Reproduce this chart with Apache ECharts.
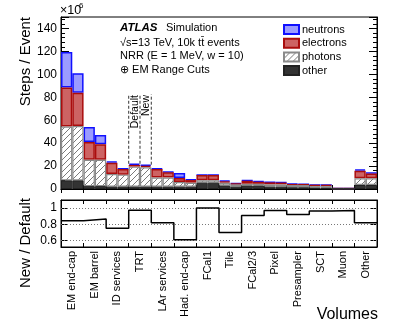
<!DOCTYPE html>
<html>
<head>
<meta charset="utf-8">
<script src="https://cdn.jsdelivr.net/npm/echarts@6/dist/echarts.min.js"></script>
<style>html,body{margin:0;padding:0;background:#fff;}#c{width:399px;height:328px;}</style>
</head>
<body>
<div id="c"></div>
<script>
// ---- data (values in units of 10^6 steps / event) ----
const categories = ['EM end-cap','EM barrel','ID services','TRT','LAr services','Had. end-cap','FCal1','Tile','FCal2/3','Pixel','Presampler','SCT','Muon','Other'];
const variants = ['Default','New'];
// per bin: Default, New interleaved for each category
const other     = [7.5,7.5, 2.5,2.5, 2,2, 2,2, 2,2, 2,2, 5.5,5.5, 3,2, 3,3, 2,2, 1.5,1.5, 1.2,1.2, 0.2,0.2, 3.5,3.5];
const photons   = [47,47.5, 23,23, 11,10.5, 17.5,17, 8,8, 4,3.5, 2.2,2.2, 2.5,2, 1.5,1.5, 2,2, 2,2, 1.3,1.3, 0.2,0.2, 5.8,5.8];
const electrons = [34,29, 15.5,13.5, 10,5, 1.5,1.3, 7.5,4.5, 3.5,2.3, 4.5,4.5, 1,0.6, 2.8,1.8, 1.8,1.6, 0.5,0.4, 1.0,0.9, 0.1,0.1, 6.7,4.3];
const neutrons  = [31,17, 13,8, 1,0.5, 1,0.9, 0.5,0.5, 4.5,0.7, 0.1,0.1, 1,0.6, 0.3,0.6, 0.2,0.2, 0.6,0.35, 0.1,0.08, 0.05,0.03, 1.1,0.5];
const ratio     = [0.845, 0.865, 0.75, 0.975, 0.82, 0.61, 1.0, 0.70, 0.91, 0.97, 0.92, 0.965, 0.97, 0.82];
const ratioTicks = [0.6, 0.8, 1];
const markedCategory = 'TRT';   // Default / New annotation

// ---- derived ----
const binLabels = [];
categories.forEach(c => variants.forEach(v => binLabels.push(c + ' ' + v)));
const totals = other.map((_, i) => other[i] + photons[i] + electrons[i] + neutrons[i]);
const FONT = '"Liberation Sans", Arial, Helvetica, sans-serif';

const hatch = (() => {
  const c = document.createElement('canvas');
  c.width = 6; c.height = 6;
  const g = c.getContext('2d');
  g.fillStyle = '#ffffff'; g.fillRect(0, 0, 6, 6);
  g.strokeStyle = '#7a7a7a'; g.lineWidth = 1;
  g.beginPath();
  g.moveTo(0, 6); g.lineTo(6, 0);
  g.moveTo(-1, 1); g.lineTo(1, -1);
  g.moveTo(5, 7); g.lineTo(7, 5);
  g.stroke();
  return c;
})();

const chart = echarts.init(document.getElementById('c'), null, {renderer: 'canvas'});

const ci = categories.indexOf(markedCategory);
const edges = [2 * ci, 2 * ci + 1, 2 * ci + 2];
const annotTop = 82.6;
const dashSeries = edges.map(e => {
  const left = e - 1 >= 0 ? totals[e - 1] : 0;
  const right = e < totals.length ? totals[e] : 0;
  return {
    type: 'line', xAxisIndex: 1, yAxisIndex: 0, symbol: 'none', silent: true, z: 10,
    lineStyle: {color: '#333', width: 1, type: [3, 2]},
    data: [[e, Math.max(left, right)], [e, annotTop]]
  };
});

const ratioData = ratio.map((r, i) => [i, r]);
ratioData.push([ratio.length, ratio[ratio.length - 1]]);

const barCommon = {type: 'bar', stack: 'steps', xAxisIndex: 0, yAxisIndex: 0, barCategoryGap: '0%'};
const axisBlack = {lineStyle: {color: '#000', width: 1}};

chart.setOption({
  animation: false,
  backgroundColor: '#fff',
  textStyle: {fontFamily: FONT},
  grid: [
    {left: 61, top: 17, width: 316, height: 172, show: true, borderColor: '#000', borderWidth: 1},
    {left: 61, top: 200, width: 316, height: 47, show: true, borderColor: '#000', borderWidth: 1}
  ],
  legend: {
    left: 283, top: 24, orient: 'vertical', itemWidth: 15, itemHeight: 9, itemGap: 2.7, padding: 0,
    icon: 'rect', data: ['neutrons', 'electrons', 'photons', 'other'],
    textStyle: {fontSize: 11, color: '#000', fontFamily: FONT, padding: [0, 0, 0, -2]}
  },
  xAxis: [
    {gridIndex: 0, type: 'category', data: binLabels, position: 'bottom',
     axisLine: axisBlack, axisLabel: {show: false},
     axisTick: {show: true, inside: true, length: 4, interval: (i) => i % 2 === 0, lineStyle: {color: '#000'}}},
    {gridIndex: 0, type: 'value', min: 0, max: 28, interval: 2, position: 'top',
     axisLine: axisBlack, axisLabel: {show: false}, splitLine: {show: false},
     axisTick: {show: true, inside: true, length: 4, lineStyle: {color: '#000'}}},
    {gridIndex: 1, type: 'category', data: categories, position: 'bottom',
     axisLine: axisBlack,
     axisLabel: {rotate: 90, fontSize: 11, color: '#000', margin: 4, interval: 0, fontFamily: FONT},
     axisTick: {show: true, inside: true, length: 4, lineStyle: {color: '#000'}}},
    {gridIndex: 1, type: 'value', min: 0, max: 14, interval: 1, position: 'top',
     axisLine: axisBlack, axisLabel: {show: false}, splitLine: {show: false},
     axisTick: {show: true, inside: true, length: 4, lineStyle: {color: '#000'}}}
  ],
  yAxis: [
    {gridIndex: 0, type: 'value', min: 0, max: 150, interval: 20, position: 'left',
     axisLine: {show: true, lineStyle: {color: '#000'}},
     axisLabel: {fontSize: 12, color: '#000', margin: 4, showMaxLabel: false, fontFamily: FONT},
     axisTick: {show: true, inside: true, length: 8, lineStyle: {color: '#000'}},
     minorTick: {show: true, splitNumber: 5, length: 4, lineStyle: {color: '#000'}},
     splitLine: {show: false}},
    {gridIndex: 0, type: 'value', min: 0, max: 150, interval: 20, position: 'right',
     axisLine: {show: true, lineStyle: {color: '#000'}}, axisLabel: {show: false},
     axisTick: {show: true, inside: true, length: 8, lineStyle: {color: '#000'}},
     minorTick: {show: true, splitNumber: 5, length: 4, lineStyle: {color: '#000'}},
     splitLine: {show: false}},
    {gridIndex: 1, type: 'value', min: 0.52, max: 1.1, position: 'left',
     axisLine: {show: true, lineStyle: {color: '#000'}},
     axisLabel: {fontSize: 12, color: '#000', margin: 4, customValues: ratioTicks, fontFamily: FONT},
     axisTick: {show: true, inside: true, length: 6, customValues: ratioTicks, lineStyle: {color: '#000'}},
     splitLine: {show: false}},
    {gridIndex: 1, type: 'value', min: 0.52, max: 1.1, position: 'right',
     axisLine: {show: true, lineStyle: {color: '#000'}}, axisLabel: {show: false},
     axisTick: {show: true, inside: true, length: 6, customValues: ratioTicks, lineStyle: {color: '#000'}},
     splitLine: {show: false}}
  ],
  series: [
    Object.assign({}, barCommon, {name: 'other', data: other, z: 5,
      itemStyle: {color: '#333333', borderColor: '#222222', borderWidth: 1}}),
    Object.assign({}, barCommon, {name: 'photons', data: photons, z: 4,
      itemStyle: {color: {image: hatch, repeat: 'repeat'}, borderColor: '#8a8a8a', borderWidth: 1.2}}),
    Object.assign({}, barCommon, {name: 'electrons', data: electrons, z: 3,
      itemStyle: {color: '#cd6363', borderColor: '#aa0d0d', borderWidth: 1.5}}),
    Object.assign({}, barCommon, {name: 'neutrons', data: neutrons, z: 2,
      itemStyle: {color: '#9b9bff', borderColor: '#1010ff', borderWidth: 1.5}}),
    ...dashSeries,
    {type: 'line', name: 'ratio', xAxisIndex: 3, yAxisIndex: 2, data: ratioData, step: 'end',
     symbol: 'none', silent: true, z: 6, lineStyle: {color: '#000', width: 1.5},
     markLine: {silent: true, symbol: 'none', label: {show: false},
       lineStyle: {type: [1, 2], color: '#777', width: 1},
       data: ratioTicks.map(v => ({yAxis: v}))}}
  ],
  graphic: [
    {type: 'text', x: 60, y: 11, style: {text: '×10', font: '12.5px ' + FONT, fill: '#000', align: 'left', verticalAlign: 'middle', textAlign: 'left', textVerticalAlign: 'middle'}},
    {type: 'text', x: 79, y: 6, style: {text: '6', font: '8px ' + FONT, fill: '#000', align: 'left', verticalAlign: 'middle', textAlign: 'left', textVerticalAlign: 'middle'}},
    {type: 'text', x: 120, y: 28, style: {text: 'ATLAS', font: 'italic bold 11.5px ' + FONT, fill: '#000', align: 'left', verticalAlign: 'middle', textAlign: 'left', textVerticalAlign: 'middle'}},
    {type: 'text', x: 166, y: 28, style: {text: 'Simulation', font: '11px ' + FONT, fill: '#000', align: 'left', verticalAlign: 'middle', textAlign: 'left', textVerticalAlign: 'middle'}},
    {type: 'text', x: 120, y: 42.5, style: {text: '√s=13 TeV, 10k tt\u0304 events', font: '11px ' + FONT, fill: '#000', align: 'left', verticalAlign: 'middle', textAlign: 'left', textVerticalAlign: 'middle'}},
    {type: 'text', x: 120, y: 56, style: {text: 'NRR (E = 1 MeV, w = 10)', font: '11px ' + FONT, fill: '#000', align: 'left', verticalAlign: 'middle', textAlign: 'left', textVerticalAlign: 'middle'}},
    {type: 'text', x: 120, y: 70, style: {text: '⊕ EM Range Cuts', font: '11px ' + FONT, fill: '#000', align: 'left', verticalAlign: 'middle', textAlign: 'left', textVerticalAlign: 'middle'}},
    {type: 'text', x: 135, y: 95, rotation: Math.PI / 2, style: {text: 'Default', font: '10.5px ' + FONT, fill: '#000', align: 'right', verticalAlign: 'middle', textAlign: 'right', textVerticalAlign: 'middle'}},
    {type: 'text', x: 146.5, y: 95, rotation: Math.PI / 2, style: {text: 'New', font: '10.5px ' + FONT, fill: '#000', align: 'right', verticalAlign: 'middle', textAlign: 'right', textVerticalAlign: 'middle'}},
    {type: 'text', x: 26, y: 17, rotation: Math.PI / 2, style: {text: 'Steps / Event', font: '15px ' + FONT, fill: '#000', align: 'right', verticalAlign: 'middle', textAlign: 'right', textVerticalAlign: 'middle'}},
    {type: 'text', x: 26, y: 198, rotation: Math.PI / 2, style: {text: 'New / Default', font: '15px ' + FONT, fill: '#000', align: 'right', verticalAlign: 'middle', textAlign: 'right', textVerticalAlign: 'middle'}},
    {type: 'text', x: 378, y: 315, style: {text: 'Volumes', font: '16px ' + FONT, fill: '#000', align: 'right', verticalAlign: 'middle', textAlign: 'right', textVerticalAlign: 'middle'}}
  ]
});
</script>
</body>
</html>
